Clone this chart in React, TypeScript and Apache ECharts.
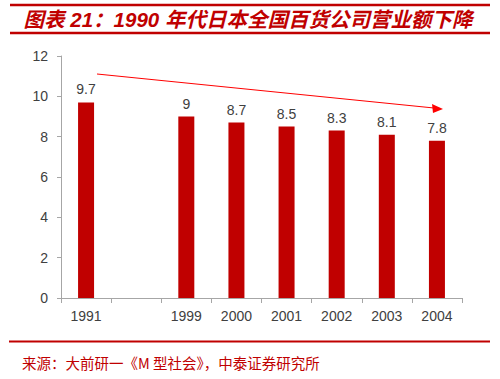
import React, { useEffect, useRef } from "react";
import * as echarts from "echarts";

const categories = ["1991", "", "1999", "2000", "2001", "2002", "2003", "2004"];
const revenue: (number | null)[] = [9.7, null, 9, 8.7, 8.5, 8.3, 8.1, 7.8];
const titleText = "图表 21：1990 年代日本全国百货公司营业额下降";
const sourceText = "来源：大前研一《M 型社会》，中泰证券研究所";

export default function App() {
  const ref = useRef<HTMLDivElement>(null);
  useEffect(() => {
    if (!ref.current) return;
    const chart = echarts.init(ref.current, null, { renderer: "svg" });
    const red = "#C00000";
    const axisColor = "#A6A6A6";
    const textColor = "#404040";
    chart.setOption({
      animation: false,
      backgroundColor: "#ffffff",
      grid: { left: 61, right: 38, top: 56, bottom: 81, containLabel: false },
      xAxis: {
        type: "category",
        data: categories,
        boundaryGap: true,
        axisLine: { lineStyle: { color: axisColor, width: 1 } },
        axisTick: { show: true, length: 5, alignWithLabel: false, lineStyle: { color: axisColor } },
        axisLabel: { color: textColor, fontSize: 14, fontFamily: "Liberation Sans, Arial", margin: 11, interval: 0 },
        splitLine: { show: false },
      },
      yAxis: {
        type: "value",
        min: 0,
        max: 12,
        interval: 2,
        axisLine: { show: true, lineStyle: { color: axisColor, width: 1 } },
        axisTick: { show: true, length: 4, lineStyle: { color: axisColor } },
        axisLabel: { color: textColor, fontSize: 14, fontFamily: "Liberation Sans, Arial", margin: 13 },
        splitLine: { show: false },
      },
      series: [
        {
          type: "bar",
          data: revenue,
          barWidth: 16,
          itemStyle: { color: red },
          label: {
            show: true,
            position: "top",
            distance: 6,
            color: textColor,
            fontSize: 14,
            fontFamily: "Liberation Sans, Arial",
          },
        },
      ],
      graphic: [
        { type: "line", shape: { x1: 10, y1: 5, x2: 490, y2: 5 }, style: { stroke: red, lineWidth: 2.5 } },
        { type: "line", shape: { x1: 10, y1: 33, x2: 490, y2: 33 }, style: { stroke: red, lineWidth: 2.5 } },
        {
          type: "text",
          x: 248,
          y: 19,
          style: {
            text: titleText,
            fill: red,
            fontSize: 20.5,
            fontWeight: "bold",
            fontStyle: "italic",
            fontFamily: "Liberation Sans, Noto Sans CJK SC",
            align: "center",
            verticalAlign: "middle",
          },
        },
        { type: "line", shape: { x1: 9, y1: 341.5, x2: 490, y2: 341.5 }, style: { stroke: red, lineWidth: 2 } },
        {
          type: "text",
          x: 22,
          y: 362,
          style: {
            text: sourceText,
            fill: red,
            fontSize: 14.5,
            fontFamily: "Noto Sans CJK SC",
            align: "left",
            verticalAlign: "middle",
          },
        },
        { type: "line", shape: { x1: 97, y1: 74, x2: 434, y2: 108 }, style: { stroke: "#FF0000", lineWidth: 1 } },
        {
          type: "polygon",
          shape: { points: [[443, 109], [432, 104], [433, 113]] },
          style: { fill: "#FF0000" },
        },
      ],
    });
    return () => chart.dispose();
  }, []);
  return <div ref={ref} style={{ width: 500, height: 379, position: "absolute", left: 0, top: 0 }} />;
}
